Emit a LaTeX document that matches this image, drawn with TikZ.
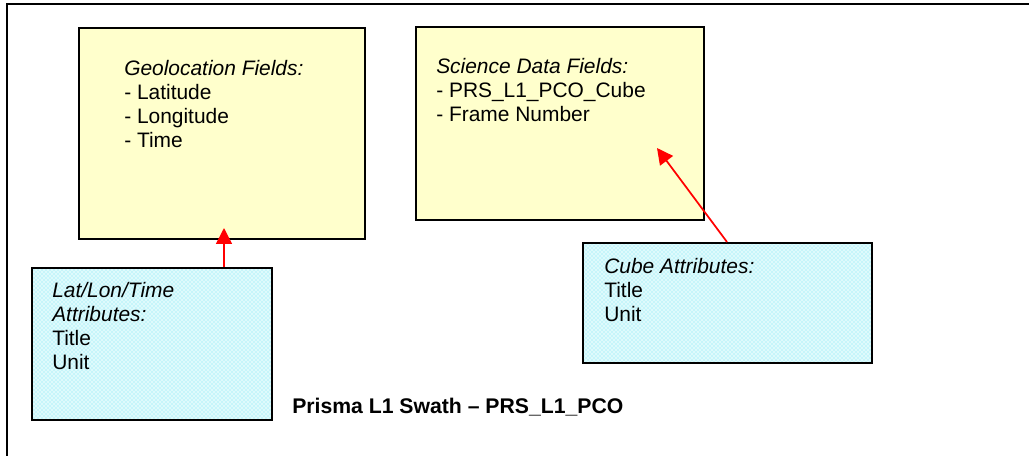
\documentclass[tikz,border=0pt]{standalone}
\usepackage{fontspec}
\setmainfont{Liberation Sans}
\usetikzlibrary{arrows.meta,patterns}
\definecolor{fieldfill}{RGB}{255,255,204}
\definecolor{attrfill}{RGB}{222,250,252}
\definecolor{attrdots}{RGB}{120,232,244}
\definecolor{linkred}{RGB}{255,0,0}
\begin{document}
\begin{tikzpicture}[x=0.75pt,y=-0.75pt,
  fieldbox/.style={draw=black,line width=1.5pt,fill=fieldfill,inner sep=0pt},
  attrbox/.style={draw=black,line width=1.5pt,inner sep=0pt,
    preaction={fill=attrfill},pattern=crosshatch dots,pattern color=attrdots},
  txt/.style={anchor=base west,inner sep=0pt,font=\fontsize{15.7pt}{18pt}\selectfont},
  head/.style={txt,font=\fontsize{15.7pt}{18pt}\selectfont\itshape},
  ttl/.style={txt,font=\fontsize{15.9pt}{18pt}\selectfont\bfseries},
  link/.style={draw=linkred,line width=1.3pt,-{Triangle[length=12pt,width=12pt]}}]
\useasboundingbox (0,0) rectangle (1029,456);

% page frame (top and left edges)
\draw[line width=1.6pt] (7,456) -- (7,4) -- (1029,4);

% field boxes
\node[fieldbox,minimum width=214.5pt,minimum height=158.25pt] (geo) at (222,133.5) {};
\node[fieldbox,minimum width=216pt,minimum height=144.75pt] (sci) at (560,123.5) {};

% attribute boxes
\node[attrbox,minimum width=180pt,minimum height=114pt] (latattr) at (152,344) {};
\node[attrbox,minimum width=216.75pt,minimum height=90pt] (cubeattr) at (727.5,303) {};

% geolocation text
\node[head] (geo1) at (124,76) {Geolocation Fields:};
\node[txt]  (geo2) at (124,100) {- Latitude};
\node[txt]  (geo3) at (124,124) {- Longitude};
\node[txt]  (geo4) at (124,148) {- Time};

% science data text
\node[head] (sci1) at (436,74) {Science Data Fields:};
\node[txt]  (sci2) at (436,98) {- PRS\_L1\_PCO\_Cube};
\node[txt]  (sci3) at (436,122) {- Frame Number};

% lat/lon/time attribute text
\node[head] (lat1) at (52,297) {Lat/Lon/Time};
\node[head] (lat2) at (52,321) {Attributes:};
\node[txt]  (lat3) at (52,345) {Title};
\node[txt]  (lat4) at (52,369) {Unit};

% cube attribute text
\node[head] (cube1) at (604,273) {Cube Attributes:};
\node[txt]  (cube2) at (604,297) {Title};
\node[txt]  (cube3) at (604,321) {Unit};

% caption
\node[ttl] (title) at (292,413) {Prisma L1 Swath – PRS\_L1\_PCO};

% links from attributes to fields
\coordinate (latfoot) at (latattr.north -| 224,0);
\coordinate (geotip) at (224,228);
\draw[link] (latfoot) -- (geotip);
\coordinate (cubefoot) at (cubeattr.north -| 727,0);
\coordinate (scitip) at (657,148);
\draw[link] (cubefoot) -- (scitip);
\end{tikzpicture}
\end{document}
